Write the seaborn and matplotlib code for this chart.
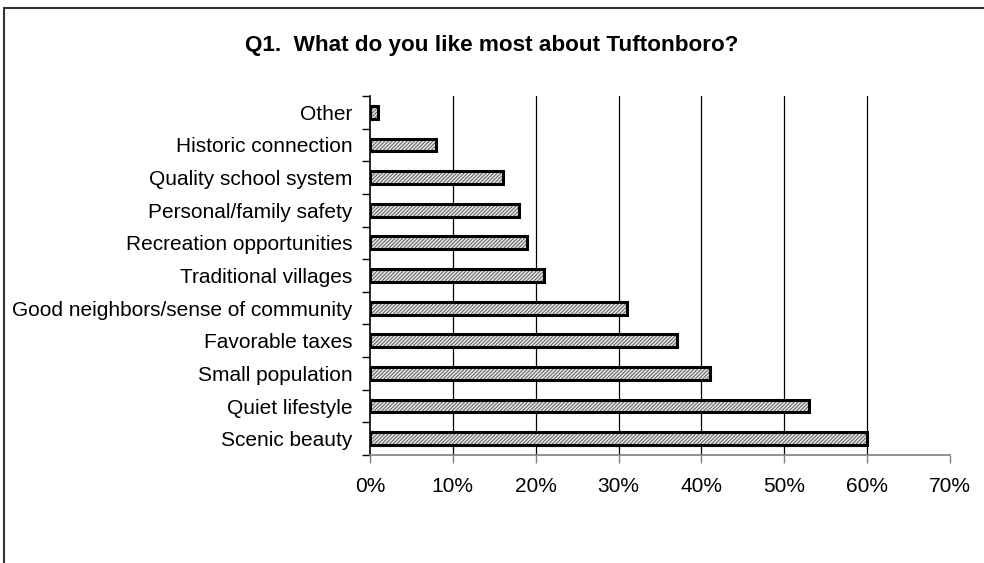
import matplotlib
matplotlib.use("Agg")
import matplotlib.pyplot as plt
from matplotlib.patches import Rectangle
from matplotlib.ticker import FixedLocator, PercentFormatter
import seaborn as sns
import pandas as pd

categories = [
    "Other",
    "Historic connection",
    "Quality school system",
    "Personal/family safety",
    "Recreation opportunities",
    "Traditional villages",
    "Good neighbors/sense of community",
    "Favorable taxes",
    "Small population",
    "Quiet lifestyle",
    "Scenic beauty",
]
percent = [1, 8, 16, 18, 19, 21, 31, 37, 41, 53, 60]
x_ticks = [0, 10, 20, 30, 40, 50, 60, 70]

df = pd.DataFrame({"category": categories, "percent": percent})

sns.set_theme(style="white")
plt.rcParams["font.family"] = ["Liberation Sans", "DejaVu Sans"]
plt.rcParams["text.color"] = "black"
plt.rcParams["hatch.linewidth"] = 0.7

fig = plt.figure(figsize=(9.84, 5.63), dpi=100)
ax = fig.add_axes([370 / 984, 1 - 455 / 563, 580 / 984, 359 / 563])

sns.barplot(data=df, x="percent", y="category", order=categories,
            color="#e6e6e6", width=0.39, ax=ax, zorder=2)

# hatched fill, then a heavy black outline over each bar
for p in list(ax.patches):
    p.set_hatch("/////////")
    p.set_edgecolor("#5a5a5a")
    p.set_linewidth(0)
    ax.add_patch(Rectangle(p.get_xy(), p.get_width(), p.get_height(),
                           fill=False, edgecolor="black", linewidth=2.2,
                           zorder=3))

ax.set_xlim(0, 70)
ax.set_ylim(len(categories) - 0.5, -0.5)
ax.xaxis.set_major_locator(FixedLocator(x_ticks))
ax.xaxis.set_major_formatter(PercentFormatter(decimals=0))

# vertical gridlines
for v in x_ticks[1:-1]:
    ax.axvline(v, color="black", linewidth=0.9, zorder=1)

ax.set_xlabel("")
ax.set_ylabel("")

for s in ("top", "right"):
    ax.spines[s].set_visible(False)
ax.spines["left"].set_color("black")
ax.spines["left"].set_linewidth(1.2)
ax.spines["bottom"].set_color("#808080")
ax.spines["bottom"].set_linewidth(1.2)

ax.tick_params(axis="x", which="major", direction="out", length=6,
               width=1.0, color="#808080", labelsize=15, pad=10,
               labelcolor="black", bottom=True)
ax.tick_params(axis="y", which="major", length=0, labelsize=15, pad=12.5,
               labelcolor="black", left=True)
ax.yaxis.set_minor_locator(FixedLocator(
    [i - 0.5 for i in range(len(categories) + 1)]))
ax.tick_params(axis="y", which="minor", direction="out", length=6,
               width=1.0, color="black", left=True)

fig.text(492 / 984, 1 - 45 / 563, "Q1.  What do you like most about Tuftonboro?",
         ha="center", va="center", fontsize=16.2, fontweight="bold",
         color="black")

# outer chart frame
fig.patches.append(Rectangle((4 / 984, -0.2), 1.2, 1.2 - 8 / 563,
                             transform=fig.transFigure, fill=False,
                             edgecolor="#333333", linewidth=1.5))

fig.savefig("out.png", dpi=100)
